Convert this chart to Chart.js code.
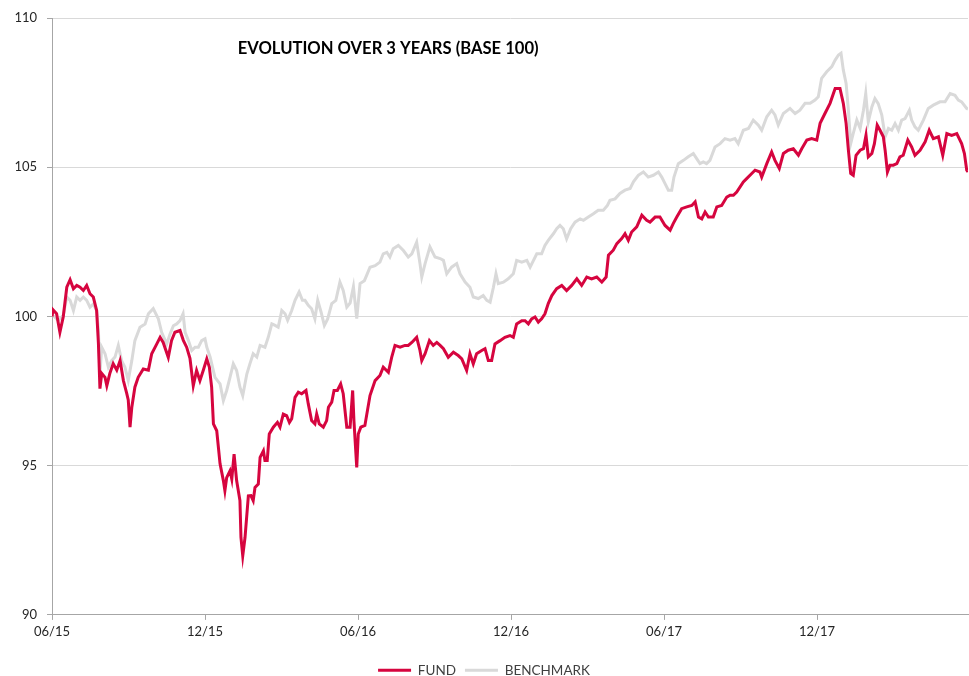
<!DOCTYPE html>
<html>
<head>
<meta charset="utf-8">
<script src="https://cdn.jsdelivr.net/npm/chart.js@4/dist/chart.umd.min.js"></script>
<style>
  html, body { margin: 0; padding: 0; background: #ffffff; }
  #wrap { width: 969px; height: 676px; }
</style>
</head>
<body>
<div id="wrap"><canvas id="c" width="969" height="676"></canvas></div>
<script>
// ---- Data (months since 06/2015, index value base 100) ----
const chartTitle = 'EVOLUTION OVER 3 YEARS (BASE 100)';
const seriesNames = ['FUND', 'BENCHMARK'];
const tickLabels = ['06/15', '12/15', '06/16', '12/16', '06/17', '12/17'];

const fundMonths = [0,0.04,0.18,0.31,0.44,0.58,0.71,0.84,0.97,1.10,1.23,1.36,1.49,1.62,1.75,1.82,1.88,1.95,2.08,2.15,2.27,2.40,2.54,2.67,2.80,2.93,2.99,3.06,3.13,3.25,3.38,3.58,3.78,3.91,4.11,4.24,4.36,4.56,4.69,4.82,5.02,5.15,5.28,5.41,5.54,5.67,5.80,5.93,6.07,6.17,6.26,6.33,6.46,6.59,6.72,6.78,6.85,6.98,7.05,7.14,7.24,7.37,7.41,7.48,7.57,7.70,7.80,7.89,7.96,8.09,8.16,8.29,8.35,8.44,8.52,8.68,8.84,8.94,9.07,9.20,9.31,9.40,9.53,9.66,9.79,9.96,10.05,10.18,10.31,10.38,10.48,10.64,10.77,10.84,10.97,11.06,11.19,11.32,11.42,11.56,11.69,11.79,11.84,11.95,12.01,12.11,12.27,12.47,12.67,12.86,12.99,13.19,13.32,13.45,13.65,13.84,13.97,14.11,14.30,14.43,14.50,14.63,14.80,14.95,15.09,15.22,15.35,15.54,15.74,15.93,16.07,16.26,16.39,16.52,16.65,16.85,16.98,17.11,17.24,17.37,17.57,17.76,17.96,18.09,18.22,18.42,18.55,18.68,18.81,18.94,19.07,19.20,19.33,19.46,19.60,19.79,19.99,20.18,20.38,20.58,20.77,20.97,21.16,21.36,21.56,21.73,21.82,22.01,22.15,22.34,22.47,22.60,22.73,22.93,23.13,23.32,23.45,23.65,23.84,24.04,24.24,24.36,24.50,24.69,24.89,25.09,25.22,25.35,25.48,25.61,25.74,25.93,26.07,26.26,26.46,26.59,26.72,26.85,27.11,27.24,27.44,27.57,27.76,27.83,28.03,28.22,28.35,28.52,28.68,28.87,29.07,29.27,29.40,29.60,29.79,29.99,30.12,30.31,30.51,30.71,30.90,31.03,31.14,31.23,31.32,31.42,31.53,31.69,31.82,31.92,32.01,32.15,32.25,32.36,32.47,32.60,32.67,32.76,32.86,32.99,33.13,33.25,33.38,33.56,33.71,33.84,34.04,34.24,34.40,34.56,34.76,34.93,35.09,35.28,35.48,35.67,35.78,35.87,35.92];
const fundValues = [100.0,100.22,100.09,99.47,99.98,100.98,101.23,100.93,101.04,100.98,100.87,101.04,100.76,100.65,100.2,99.1,97.58,98.09,97.96,97.68,98.1,98.42,98.2,98.52,97.85,97.42,97.2,96.29,96.96,97.63,97.96,98.24,98.2,98.75,99.08,99.3,99.13,98.63,99.2,99.47,99.53,99.2,98.97,98.6,97.68,98.19,97.85,98.19,98.58,98.3,97.63,96.4,96.17,95.06,94.5,94.16,94.6,94.83,94.55,95.39,94.5,93.83,92.6,91.98,92.6,93.99,94.0,93.83,94.27,94.38,95.28,95.5,95.17,95.17,96.06,96.29,96.45,96.29,96.73,96.68,96.45,96.57,97.29,97.46,97.41,97.52,97.07,96.51,96.4,96.73,96.4,96.29,96.51,96.96,97.13,97.52,97.52,97.74,97.41,96.29,96.29,97.52,96.51,94.94,96.06,96.29,96.35,97.35,97.85,98.02,98.3,98.13,98.63,99.03,98.97,99.03,99.03,99.13,99.3,98.86,98.52,98.75,99.19,99.03,99.13,99.03,98.92,98.63,98.8,98.69,98.58,98.19,98.75,98.41,98.75,98.86,98.92,98.52,98.52,99.08,99.19,99.3,99.36,99.3,99.75,99.86,99.86,99.75,99.92,99.98,99.81,99.92,100.09,100.43,100.70,100.93,101.04,100.87,101.04,101.26,101.04,101.32,101.26,101.32,101.15,101.32,102.05,102.22,102.44,102.61,102.77,102.55,102.83,103.0,103.39,103.22,103.16,103.33,103.33,103.05,102.89,103.11,103.33,103.61,103.67,103.72,103.84,103.33,103.27,103.5,103.33,103.33,103.67,103.72,104.0,104.06,104.06,104.17,104.51,104.62,104.79,104.9,104.84,104.67,105.12,105.51,105.23,104.96,105.46,105.57,105.62,105.4,105.62,105.91,105.96,105.91,106.47,106.8,107.14,107.64,107.64,107.14,106.47,105.57,104.79,104.73,105.4,105.57,105.62,106.07,105.35,105.46,105.79,106.41,106.24,106.02,105.57,104.84,105.07,105.07,105.12,105.35,105.4,105.91,105.68,105.4,105.57,105.85,106.24,105.96,106.02,105.4,106.13,106.07,106.13,105.79,105.46,104.9,104.84];

const benchMonths = [0,0.04,0.25,0.44,0.58,0.71,0.84,0.97,1.10,1.23,1.36,1.49,1.62,1.75,1.82,1.88,1.95,2.08,2.21,2.34,2.47,2.60,2.73,2.86,2.99,3.13,3.25,3.45,3.65,3.78,3.97,4.17,4.30,4.50,4.63,4.76,4.89,5.02,5.14,5.22,5.35,5.48,5.61,5.74,5.87,6.00,6.07,6.20,6.39,6.59,6.72,6.85,6.98,7.11,7.24,7.37,7.48,7.64,7.76,7.89,8.03,8.16,8.35,8.48,8.62,8.75,8.87,9.01,9.14,9.24,9.40,9.53,9.69,9.82,9.92,10.05,10.18,10.31,10.42,10.55,10.68,10.81,10.97,11.13,11.29,11.42,11.56,11.69,11.82,11.95,12.08,12.25,12.35,12.47,12.67,12.86,12.99,13.13,13.25,13.38,13.58,13.78,13.97,14.11,14.30,14.43,14.50,14.63,14.82,15.02,15.22,15.35,15.48,15.67,15.87,16.00,16.20,16.39,16.52,16.72,16.91,17.05,17.18,17.31,17.41,17.50,17.70,17.89,18.09,18.22,18.42,18.62,18.75,19.01,19.20,19.33,19.46,19.66,19.79,19.92,20.05,20.18,20.34,20.51,20.71,20.84,21.03,21.23,21.42,21.62,21.78,21.88,22.08,22.27,22.47,22.67,22.80,22.99,23.19,23.38,23.58,23.78,23.91,24.04,24.17,24.30,24.39,24.56,24.76,24.95,25.15,25.28,25.41,25.54,25.67,25.80,26.00,26.20,26.39,26.59,26.78,26.91,27.11,27.31,27.50,27.70,27.83,28.03,28.22,28.35,28.48,28.68,28.94,29.14,29.33,29.53,29.73,29.92,30.05,30.18,30.38,30.58,30.71,30.84,30.94,31.03,31.14,31.23,31.32,31.42,31.56,31.69,31.82,31.91,32.01,32.15,32.27,32.40,32.54,32.67,32.80,32.93,33.06,33.19,33.32,33.45,33.62,33.71,33.84,33.97,34.17,34.36,34.56,34.82,35.02,35.22,35.41,35.54,35.67,35.87,35.92];
const benchValues = [100.0,100.03,99.87,100.03,100.65,100.54,100.2,100.65,100.54,100.65,100.54,100.31,100.42,100.2,99.53,98.09,98.97,98.75,98.3,98.52,98.64,99.03,98.52,98.3,97.85,98.52,99.19,99.64,99.75,100.09,100.26,99.92,99.47,99.08,99.41,99.69,99.75,99.86,100.09,99.47,99.19,98.86,98.97,98.97,99.19,99.25,98.97,98.64,97.96,97.74,97.18,97.52,97.96,98.41,98.19,97.63,97.35,98.07,98.41,98.75,98.64,99.03,98.97,99.3,99.75,99.7,99.64,100.2,100.09,99.87,100.2,100.54,100.82,100.54,100.54,100.37,100.26,99.92,100.54,100.15,99.7,99.92,100.43,100.54,101.15,100.87,100.31,100.45,101.0,99.93,101.1,101.2,101.4,101.65,101.7,101.82,102.1,102.15,101.99,102.27,102.38,102.21,101.99,102.1,102.49,101.77,101.32,101.77,102.33,101.99,101.94,101.88,101.43,101.65,101.77,101.43,101.15,100.98,100.65,100.6,100.7,100.54,100.48,100.98,101.43,101.1,101.15,101.26,101.43,101.88,101.82,101.88,101.65,102.1,102.1,102.38,102.55,102.77,102.94,103.05,102.94,102.6,102.94,103.16,103.27,103.22,103.33,103.44,103.56,103.56,103.72,103.89,103.94,104.12,104.23,104.29,104.51,104.73,104.84,104.67,104.73,104.84,104.67,104.45,104.23,104.23,104.67,105.12,105.23,105.35,105.46,105.29,105.12,105.18,105.12,105.23,105.68,105.79,105.96,105.91,105.96,105.79,106.24,106.3,106.58,106.41,106.24,106.69,106.91,106.75,106.41,106.8,106.97,106.8,106.91,107.14,107.14,107.25,107.36,107.98,108.2,108.37,108.59,108.76,108.82,108.26,107.81,106.91,105.79,106.13,106.58,106.3,106.91,107.47,106.52,107.02,107.3,107.13,106.75,106.02,106.3,106.24,106.46,106.24,106.58,106.63,106.91,106.58,106.35,106.24,106.58,106.97,107.08,107.19,107.19,107.47,107.41,107.25,107.19,106.97,106.95];

const fundColor = '#d6053f';
const benchColor = '#d9d9d9';
const FONT = 'Lato, "Open Sans", "Liberation Sans", sans-serif';

const toXY = (xs, ys) => xs.map((m, i) => ({ x: m, y: ys[i] }));
const lastMonth = Math.max(fundMonths[fundMonths.length - 1], benchMonths[benchMonths.length - 1]);

const innerTitle = {
  id: 'innerTitle',
  afterDraw(chart) {
    const { ctx, chartArea } = chart;
    ctx.save();
    ctx.font = 'bold 16.6px ' + FONT;
    ctx.fillStyle = '#000000';
    ctx.textAlign = 'center';
    ctx.textBaseline = 'middle';
    ctx.fillText(chartTitle, chartArea.left + chartArea.width * 0.367, chartArea.top + 31);
    ctx.restore();
  }
};

new Chart(document.getElementById('c'), {
  type: 'line',
  data: {
    datasets: [
      { label: seriesNames[0], data: toXY(fundMonths, fundValues), borderColor: fundColor, backgroundColor: fundColor,
        borderWidth: 3, pointRadius: 0, tension: 0, order: 0 },
      { label: seriesNames[1], data: toXY(benchMonths, benchValues), borderColor: benchColor, backgroundColor: benchColor,
        borderWidth: 3, pointRadius: 0, tension: 0, order: 1 }
    ]
  },
  options: {
    responsive: false,
    animation: false,
    layout: { padding: { top: 18, right: 1, left: 0, bottom: -11 } },
    plugins: {
      tooltip: { enabled: false },
      title: { display: false },
      legend: {
        position: 'bottom',
        labels: {
          font: { family: FONT, size: 13.5 },
          color: '#404040',
          boxWidth: 33,
          boxHeight: 3,
          padding: 9,
          generateLabels(chart) {
            return Chart.defaults.plugins.legend.labels.generateLabels(chart).map(l => Object.assign(l, { lineWidth: 0 }));
          }
        }
      }
    },
    scales: {
      x: {
        type: 'linear',
        min: 0,
        max: lastMonth,
        afterBuildTicks(scale) { scale.ticks = scale.ticks.filter(t => Math.abs(t.value % 6) < 1e-6); },
        afterFit(scale) { scale.height += 11; },
        ticks: {
          stepSize: 6,
          maxRotation: 0,
          autoSkip: false,
          padding: 4,
          font: { family: FONT, size: 13 },
          color: '#262626',
          callback: (v) => tickLabels[Math.round(v / 6)] ?? ''
        },
        grid: { drawOnChartArea: false, drawTicks: true, tickLength: 5, color: '#a6a6a6' },
        border: { color: '#a6a6a6', width: 1 }
      },
      y: {
        min: 90,
        max: 110,
        afterFit(scale) { scale.width = 52; },
        ticks: {
          stepSize: 5,
          padding: 10,
          font: { family: FONT, size: 13 },
          color: '#262626'
        },
        grid: { color: '#d9d9d9', tickColor: '#a6a6a6', tickLength: 5, lineWidth: 1 },
        border: { color: '#a6a6a6', width: 1 }
      }
    }
  },
  plugins: [innerTitle]
});
</script>
</body>
</html>
